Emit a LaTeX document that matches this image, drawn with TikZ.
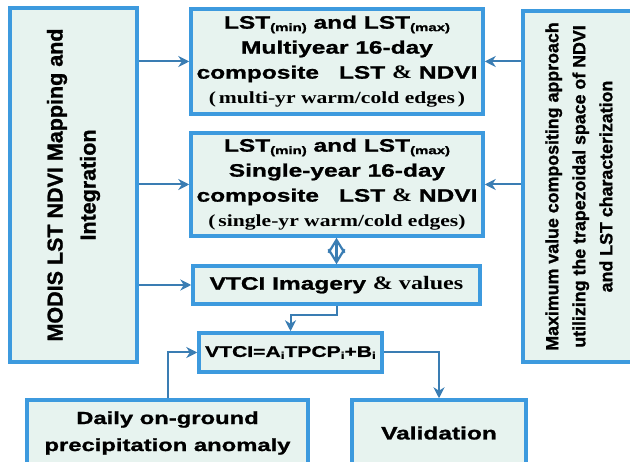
\documentclass[tikz,border=0pt]{standalone}
\usepackage{fontspec}
\setmainfont{Liberation Sans}[FakeBold=1.2]
\newfontfamily\wsans{Liberation Sans}[FakeStretch=1.36,FakeBold=1.2]
\newfontfamily\wserif{Liberation Serif}[FakeStretch=1.27]
\usetikzlibrary{arrows.meta,calc}
\definecolor{boxblue}{HTML}{3D9ADE}
\definecolor{boxfill}{HTML}{E7F3EF}
\definecolor{arrblue}{HTML}{3A7DB3}
\newcommand\lsub[1]{\raisebox{-2.5pt}{\fontsize{11}{11}\selectfont #1}}
\newcommand\isub[1]{\raisebox{-2pt}{\fontsize{10}{10}\selectfont #1}}
\begin{document}
\begin{tikzpicture}[x=1pt,y=-1pt,
  box/.style={draw=boxblue, line width=3.5pt, fill=boxfill, rectangle, inner sep=0pt, align=center,
    font=\wsans\bfseries\fontsize{18}{25}\selectfont},
  arr/.style={draw=arrblue, line width=2pt, -{Stealth[length=11pt,width=11pt]}},
  darr/.style={draw=arrblue, line width=2.2pt, {Straight Barb[length=13pt,width=16pt]}-{Straight Barb[length=13pt,width=16pt]}}
]
\useasboundingbox (0,0) rectangle (630,462);
\clip (0,0) rectangle (630,462);

\node[box, rotate=90, minimum width=354, minimum height=127,
  font=\rmfamily\bfseries\fontsize{21.5}{33}\selectfont] (l) at (73.5,185)
  {MODIS LST NDVI Mapping and\\Integration};
\node[box, rotate=90, minimum width=351, minimum height=112,
  font=\rmfamily\bfseries\fontsize{17.8}{27}\selectfont] (r) at (579,186.5)
  {Maximum value compositing approach\\utilizing the trapezoidal space of NDVI\\and LST characterization};

\node[box, minimum width=292, minimum height=105] (t1) at (337,61.5)
  {LST\lsub{(min)} and LST\lsub{(max)}\\
   Multiyear 16-day\\
   composite\hspace{20pt}LST {\wserif\bfseries\fontsize{19}{25}\selectfont\&} NDVI\\
   {\wserif\bfseries\fontsize{17}{25}\selectfont(\,multi-yr warm/cold edges\,)}};
\node[box, minimum width=292, minimum height=103] (t2) at (337,184.5)
  {LST\lsub{(min)} and LST\lsub{(max)}\\
   Single-year 16-day\\
   composite\hspace{20pt}LST {\wserif\bfseries\fontsize{19}{25}\selectfont\&} NDVI\\
   {\wserif\bfseries\fontsize{17}{25}\selectfont(\,single-yr warm/cold edges)}};
\node[box, minimum width=287, minimum height=38] (v) at (336.5,285)
  {VTCI Imagery {\wserif\bfseries\fontsize{19}{25}\selectfont\& values}};
\node[box, minimum width=183, minimum height=39,
  font=\wsans\bfseries\fontsize{15.5}{18}\selectfont] (e) at (290.5,352.5)
  {VTCI=A\isub{i}TPCP\isub{i}+B\isub{i}};
\node[box, minimum width=281, minimum height=66, font=\wsans\bfseries\fontsize{17.5}{27}\selectfont] (d) at (167.5,433)
  {Daily on-ground\\precipitation anomaly};
\node[box, minimum width=174, minimum height=66, font=\wsans\bfseries\fontsize{18}{22}\selectfont] (val) at (439,433)
  {Validation};

\draw[arr] (t1.west -| l.south) -- (t1.west);
\draw[arr] (t2.west -| l.south) -- (t2.west);
\draw[arr] (v.west -| l.south) -- (v.west);
\draw[arr] (t1.east -| r.north) -- (t1.east);
\draw[arr] (t2.east -| r.north) -- (t2.east);
\draw[darr] (v.north) -- (v.north |- t2.south);
\draw[arr] (v.south) -- ++(0,9) -| (e.north);
\draw[arr] (d.north) |- (e.west);
\draw[arr] (e.east) -| (val.north);
\end{tikzpicture}
\end{document}
